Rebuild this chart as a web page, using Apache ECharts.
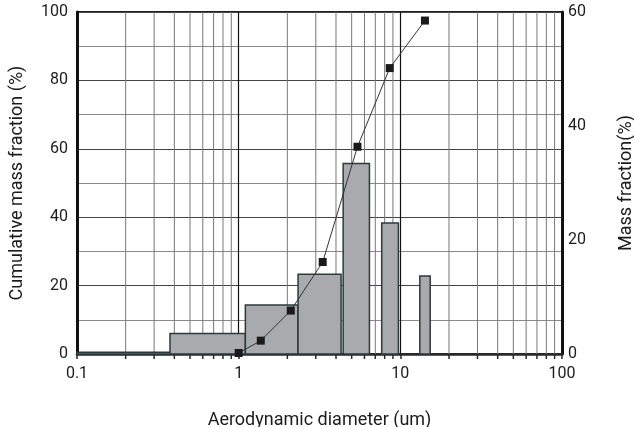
<!DOCTYPE html>
<html>
<head>
<meta charset="utf-8">
<script src="https://cdn.jsdelivr.net/npm/echarts@6/dist/echarts.min.js"></script>
<style>
  html, body { margin: 0; padding: 0; background: #fff; }
  #chart { width: 634px; height: 427px; }
</style>
</head>
<body>
<div id="chart"></div>
<script>
  // histogram bins: lower edge, upper edge (um), mass fraction (%)
  const binLow = [0.1, 0.376, 1.10, 2.33, 4.43, 7.67, 13.2];
  const binHigh = [0.376, 1.10, 2.33, 4.30, 6.44, 9.73, 15.3];
  const massFraction = [0.3, 3.6, 8.6, 14.0, 33.4, 23.0, 13.7];

  // cumulative curve
  const cumDiameter = [1.0, 1.37, 2.10, 3.31, 5.43, 8.60, 14.2];
  const cumFraction = [0.3, 3.9, 12.7, 26.9, 60.6, 83.6, 97.5];

  // minor log gridlines (2..9 in each decade)
  const minorValues = [
    0.2, 0.3, 0.4, 0.5, 0.6, 0.7, 0.8, 0.9,
    2, 3, 4, 5, 6, 7, 8, 9,
    20, 30, 40, 50, 60, 70, 80, 90,
  ];

  const font = 'Roboto';
  const textColor = '#1c1c1c';

  const chart = echarts.init(document.getElementById('chart'));

  const option = {
    animation: false,
    grid: {
      left: 77,
      right: 72,
      top: 12,
      bottom: 73,
      outerBoundsMode: 'none',
      containLabel: false,
      show: true,
      borderColor: '#222',
      borderWidth: 2,
    },
    xAxis: {
      type: 'log',
      logBase: 10,
      min: 0.1,
      max: 100,
      name: 'Aerodynamic diameter (um)',
      nameLocation: 'middle',
      nameGap: 57,
      nameTextStyle: { fontFamily: font, fontSize: 18, color: textColor },
      axisLine: { lineStyle: { color: '#2a2a2a', width: 2.5 } },
      axisTick: { show: true, length: 5, lineStyle: { color: '#2a2a2a', width: 1.5 } },
      axisLabel: { fontFamily: font, fontSize: 16, color: textColor, margin: 12 },
      splitLine: { show: true, lineStyle: { color: '#111', width: 1.2 } },
    },
    yAxis: [
      {
        type: 'value',
        min: 0,
        max: 100,
        interval: 20,
        name: 'Cumulative mass fraction (%)',
        nameLocation: 'middle',
        nameGap: 51,
        nameTextStyle: { fontFamily: font, fontSize: 18, color: textColor },
        axisLine: { show: true, lineStyle: { color: '#111', width: 3 } },
        axisTick: { show: false },
        axisLabel: { fontFamily: font, fontSize: 16, color: textColor, margin: 9 },
        splitLine: { show: true, lineStyle: { color: '#444', width: 1 } },
        minorTick: { show: false, splitNumber: 2 },
        minorSplitLine: { show: true, lineStyle: { color: '#8a8a8a', width: 1 } },
      },
      {
        type: 'value',
        min: 0,
        max: 60,
        interval: 20,
        position: 'right',
        name: 'Mass fraction(%)',
        nameLocation: 'middle',
        nameRotate: 90,
        nameGap: 55,
        nameTextStyle: { fontFamily: font, fontSize: 18, color: textColor },
        axisLine: { show: true, lineStyle: { color: '#111', width: 3 } },
        axisTick: { show: false },
        axisLabel: { fontFamily: font, fontSize: 16, color: textColor, margin: 6 },
        splitLine: { show: false },
      },
    ],
    series: [
      {
        name: 'minorGrid',
        type: 'custom',
        yAxisIndex: 0,
        z: 1,
        silent: true,
        clip: false,
        data: minorValues.map((v) => [v, 0]),
        renderItem(params, api) {
          const bottom = api.coord([api.value(0), 0]);
          const top = api.coord([api.value(0), 100]);
          return {
            type: 'group',
            children: [
              {
                type: 'line',
                shape: { x1: top[0], y1: top[1], x2: bottom[0], y2: bottom[1] },
                style: { stroke: '#777', lineWidth: 1 },
              },
              {
                type: 'line',
                shape: { x1: bottom[0], y1: bottom[1], x2: bottom[0], y2: bottom[1] + 5 },
                style: { stroke: '#2a2a2a', lineWidth: 1.5 },
              },
            ],
          };
        },
      },
      {
        name: 'Mass fraction',
        type: 'custom',
        yAxisIndex: 1,
        z: 2,
        data: binLow.map((lo, i) => [lo, binHigh[i], massFraction[i]]),
        encode: { x: [0, 1], y: 2 },
        renderItem(params, api) {
          const start = api.coord([api.value(0), 0]);
          const end = api.coord([api.value(1), api.value(2)]);
          return {
            type: 'rect',
            shape: {
              x: start[0],
              y: end[1],
              width: end[0] - start[0],
              height: start[1] - end[1],
            },
            style: { fill: '#a9aaad', stroke: '#2e3a3a', lineWidth: 1.5 },
          };
        },
      },
      {
        name: 'Cumulative',
        type: 'line',
        yAxisIndex: 0,
        z: 3,
        data: cumDiameter.map((d, i) => [d, cumFraction[i]]),
        symbol: 'rect',
        symbolSize: 8,
        itemStyle: { color: '#1a1a1a' },
        lineStyle: { color: '#333', width: 1 },
      },
    ],
  };

  chart.setOption(option);
</script>
</body>
</html>
